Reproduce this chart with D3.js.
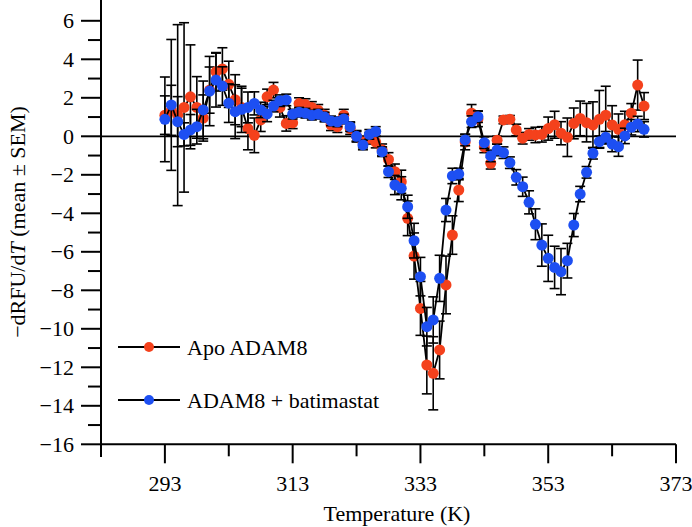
<!DOCTYPE html>
<html>
<head>
<meta charset="utf-8">
<script src="https://cdn.jsdelivr.net/npm/d3@7"></script>
<style>
  html, body { margin: 0; padding: 0; background: #fff; }
  svg, svg text { font-family: 'Liberation Serif', Tinos, 'Times New Roman', Times, 'DejaVu Serif', serif; }
</style>
</head>
<body>
<svg id="chart" width="692" height="527"></svg>
<script>
const temperatures = [293,294,295,296,297,298,299,300,301,302,303,304,305,306,307,308,309,310,311,312,
  313,314,315,316,317,318,319,320,321,322,323,324,325,326,327,328,329,330,331,332,
  333,334,335,336,337,338,339,340,341,342,343,344,345,346,347,348,349,350,351,352,
  353,354,355,356,357,358,359,360,361,362,363,364,365,366,367,368];

const apoMean = [1.1,1.35,1.1,1.5,2.05,1.5,0.95,2.4,3.35,3.5,2.7,1.9,1.5,0.4,0.05,0.85,2.05,2.4,1.5,0.67,
  0.7,1.7,1.65,1.5,1.35,1.1,0.6,0.5,1.1,0.4,0.0,-0.3,-0.1,-0.3,-0.7,-1.2,-1.84,-2.36,-4.26,-6.22,
  -8.94,-11.88,-12.31,-11.1,-7.72,-5.13,-2.79,-0.3,1.2,0.9,-0.55,-1.4,-0.2,0.85,0.88,0.33,-0.1,0.1,0.07,0.1,
  0.4,0.6,0.16,-0.05,0.67,0.93,0.71,0.59,0.88,1.1,0.59,0.36,0.6,1.2,2.66,1.57];

const apoSem = [1.0,1.3,4.7,4.4,2.7,1.6,1.2,1.2,1.0,1.1,1.2,1.3,1.0,1.1,0.9,0.6,0.4,0.4,0.5,0.4,
  0.3,0.3,0.3,0.3,0.3,0.3,0.3,0.3,0.3,0.3,0.3,0.3,0.3,0.3,0.3,0.35,0.4,0.6,0.9,1.2,
  1.4,1.5,1.9,1.5,1.5,1.0,0.6,0.4,0.45,0.4,0.3,0.3,0.2,0.2,0.2,0.3,0.3,0.3,0.4,0.4,
  0.6,0.7,0.6,1.0,0.8,0.9,1.0,1.2,1.5,1.5,1.0,0.8,0.7,0.5,1.3,0.7];

const batMean = [0.88,1.63,0.76,0.1,0.33,0.5,1.37,2.35,2.92,2.61,1.72,1.28,1.4,1.5,1.71,1.37,1.16,1.57,1.85,1.89,
  1.15,1.25,1.2,1.1,1.15,1.0,0.8,0.75,0.9,0.5,0.0,-0.45,0.1,0.25,-0.8,-1.84,-2.53,-2.7,-3.66,-5.42,
  -7.29,-9.89,-9.54,-7.38,-3.83,-2.06,-1.96,-0.19,0.76,1.02,-0.33,-1.02,-0.71,-0.85,-1.37,-2.13,-2.62,-3.43,-4.57,-5.65,
  -6.34,-6.81,-7.03,-6.46,-4.61,-3.0,-1.87,-0.88,-0.28,-0.05,-0.4,-0.54,0.02,0.47,0.64,0.36];

const batSem = [2.2,3.4,1.3,0.6,0.8,0.9,1.5,1.8,1.4,1.0,1.0,1.4,1.2,0.8,0.6,0.4,0.4,0.3,0.3,0.3,
  0.25,0.25,0.25,0.25,0.25,0.25,0.25,0.25,0.25,0.25,0.25,0.25,0.25,0.25,0.25,0.3,0.5,0.6,0.6,0.9,
  1.0,1.0,1.2,1.2,0.6,0.4,0.3,0.3,0.3,0.3,0.3,0.3,0.3,0.3,0.3,0.4,0.5,0.6,0.8,1.1,
  1.2,1.1,1.2,0.9,0.6,0.4,0.3,0.3,0.3,0.3,0.4,0.5,0.4,0.4,0.4,0.4];

const seriesNames = ["Apo ADAM8", "ADAM8 + batimastat"];
const seriesColors = ["#f4411c", "#1d4ff2"];
const xMajorTicks = [293, 313, 333, 353, 373];
const xMinorTicks = [303, 323, 343, 363];
const yMajorTicks = [-16,-14,-12,-10,-8,-6,-4,-2,0,2,4,6];
const yMinorTicks = [-15,-13,-11,-9,-7,-5,-3,-1,1,3,5];
const xTitle = "Temperature (K)";

const FONT = "'Liberation Serif', Tinos, 'Times New Roman', Times, 'DejaVu Serif', serif";
const svg = d3.select("#chart").attr("font-family", FONT);
const x = d3.scaleLinear().domain([283, 373]).range([101, 676]);
const y = d3.scaleLinear().domain([-16, 7]).range([444.3, 1.55]);

const fmt = v => (v < 0 ? "\u2212" + Math.abs(v) : String(v));

// zero line
svg.append("line").attr("x1", x(283)).attr("x2", x(373))
  .attr("y1", y(0)).attr("y2", y(0))
  .attr("stroke", "#000").attr("stroke-width", 1.8);

// y axis
const gy = svg.append("g").attr("transform", `translate(${x(283)},0)`);
gy.append("line").attr("x1", 0).attr("x2", 0).attr("y1", 0).attr("y2", 457)
  .attr("stroke", "#000").attr("stroke-width", 2);
gy.selectAll("line.maj").data(yMajorTicks).join("line").attr("class", "maj")
  .attr("x1", -20).attr("x2", 0).attr("y1", d => y(d)).attr("y2", d => y(d))
  .attr("stroke", "#000").attr("stroke-width", 2);
gy.selectAll("line.min").data(yMinorTicks).join("line").attr("class", "min")
  .attr("x1", -13).attr("x2", 0).attr("y1", d => y(d)).attr("y2", d => y(d))
  .attr("stroke", "#000").attr("stroke-width", 2);
gy.selectAll("text").data(yMajorTicks).join("text")
  .attr("x", -27).attr("y", d => y(d) + 7.5).attr("font-family", FONT)
  .attr("text-anchor", "end").attr("font-size", 22).text(fmt);

// x axis
const gx = svg.append("g").attr("transform", `translate(0,${y(-16)})`);
gx.append("line").attr("x1", x(283)).attr("x2", x(373)).attr("y1", 0).attr("y2", 0)
  .attr("stroke", "#000").attr("stroke-width", 2);
gx.selectAll("line.maj").data(xMajorTicks).join("line").attr("class", "maj")
  .attr("x1", d => x(d)).attr("x2", d => x(d)).attr("y1", 0).attr("y2", 19)
  .attr("stroke", "#000").attr("stroke-width", 2);
gx.selectAll("line.min").data(xMinorTicks).join("line").attr("class", "min")
  .attr("x1", d => x(d)).attr("x2", d => x(d)).attr("y1", 0).attr("y2", 12)
  .attr("stroke", "#000").attr("stroke-width", 2);
gx.selectAll("text").data(xMajorTicks).join("text")
  .attr("x", d => x(d)).attr("y", 46.5).attr("font-family", FONT)
  .attr("text-anchor", "middle").attr("font-size", 22).text(d => d);

// axis titles
svg.append("text").attr("x", 397).attr("y", 521).attr("text-anchor", "middle")
  .attr("font-family", FONT).attr("font-size", 22).text(xTitle);
const yt = svg.append("text").attr("transform", "translate(25,222) rotate(-90)")
  .attr("text-anchor", "middle").attr("font-family", FONT).attr("font-size", 22);
yt.append("tspan").text("\u2212dRFU/d");
yt.append("tspan").attr("font-style", "italic").text("T");
yt.append("tspan").text(" (mean \u00b1 SEM)");

// series
const series = [
  { name: seriesNames[0], color: seriesColors[0], mean: apoMean, sem: apoSem },
  { name: seriesNames[1], color: seriesColors[1], mean: batMean, sem: batSem }
];

const line = d3.line().x(d => x(d.t)).y(d => y(d.m));
const capW = 5;

series.forEach(s => {
  const pts = temperatures.map((t, i) => ({ t, m: s.mean[i], e: s.sem[i] }));
  const g = svg.append("g");
  g.append("path").datum(pts).attr("d", line)
    .attr("fill", "none").attr("stroke", "#000").attr("stroke-width", 1.8);
  const eb = g.append("g").attr("stroke", "#000").attr("stroke-width", 1.6);
  eb.selectAll("line.v").data(pts).join("line").attr("class", "v")
    .attr("x1", d => x(d.t)).attr("x2", d => x(d.t))
    .attr("y1", d => y(d.m - d.e)).attr("y2", d => y(d.m + d.e));
  eb.selectAll("line.top").data(pts).join("line").attr("class", "top")
    .attr("x1", d => x(d.t) - capW).attr("x2", d => x(d.t) + capW)
    .attr("y1", d => y(d.m + d.e)).attr("y2", d => y(d.m + d.e));
  eb.selectAll("line.bot").data(pts).join("line").attr("class", "bot")
    .attr("x1", d => x(d.t) - capW).attr("x2", d => x(d.t) + capW)
    .attr("y1", d => y(d.m - d.e)).attr("y2", d => y(d.m - d.e));
  g.selectAll("circle").data(pts).join("circle")
    .attr("cx", d => x(d.t)).attr("cy", d => y(d.m)).attr("r", 5.5)
    .attr("fill", s.color);
});

// legend
const legendY = [347, 400];
const lg = svg.append("g");
series.forEach((s, i) => {
  lg.append("line").attr("x1", 118).attr("x2", 180)
    .attr("y1", legendY[i]).attr("y2", legendY[i])
    .attr("stroke", "#000").attr("stroke-width", 1.8);
  lg.append("circle").attr("cx", 149).attr("cy", legendY[i]).attr("r", 5)
    .attr("fill", s.color);
  lg.append("text").attr("x", 187).attr("y", legendY[i] + 7.5)
    .attr("font-family", FONT).attr("font-size", 22).text(s.name);
});
</script>
</body>
</html>
